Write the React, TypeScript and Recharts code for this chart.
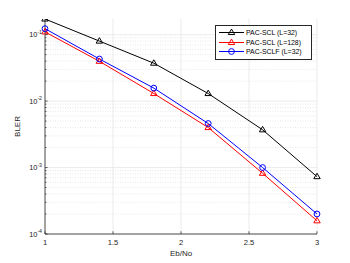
import { LineChart, Line, XAxis, YAxis, CartesianGrid, Legend, Label } from 'recharts';

const ebno = [1, 1.4, 1.8, 2.2, 2.6, 3];
const sclL32 = [0.172, 0.08, 0.0372, 0.013, 0.0037, 0.00073];
const sclL128 = [0.11, 0.0397, 0.013, 0.004, 0.00082, 0.000158];
const sclfL32 = [0.123, 0.043, 0.0157, 0.0046, 0.001, 0.0002];

const xTicks = [1, 1.5, 2, 2.5, 3];
const yDecades = [1e-4, 1e-3, 1e-2, 1e-1];
const yDecadeLabels = ['-4', '-3', '-2', '-1'];
const minorSteps = [2, 3, 4, 5, 6, 7, 8, 9];
const yMax = 0.172;

const yMinor = yDecades.flatMap((d) => minorSteps.map((m) => d * m)).filter((v) => v < yMax);
const yAllTicks = [...yDecades, ...yMinor].sort((a, b) => a - b);

const series = [
  { key: 'scl32', name: 'PAC-SCL (L=32)', color: '#000000', marker: 'triangle', values: sclL32 },
  { key: 'scl128', name: 'PAC-SCL (L=128)', color: '#ff0000', marker: 'triangle', values: sclL128 },
  { key: 'sclf32', name: 'PAC-SCLF (L=32)', color: '#0000ff', marker: 'circle', values: sclfL32 },
];

const data = ebno.map((x, i) => {
  const row: Record<string, number> = { x };
  series.forEach((s) => {
    row[s.key] = s.values[i];
  });
  return row;
});

const FONT = '"Liberation Sans", Arial, Helvetica, sans-serif';
const AXIS = '#262626';

function Marker({ cx, cy, color, marker }: { cx: number; cy: number; color: string; marker: string }) {
  if (marker === 'circle') {
    return <circle cx={cx} cy={cy} r={2.9} fill="none" stroke={color} strokeWidth={1} />;
  }
  const r = 3.4;
  const pts = `${cx},${cy - r} ${cx + r * 0.95},${cy + r * 0.6} ${cx - r * 0.95},${cy + r * 0.6}`;
  return <polygon points={pts} fill="none" stroke={color} strokeWidth={1} />;
}

function BottomTick({ x, y, payload }: any) {
  return (
    <g>
      <line x1={x} y1={y} x2={x} y2={y - 2.7} stroke={AXIS} strokeWidth={0.7} />
      <text x={x} y={y + 11} textAnchor="middle" fill={AXIS} fontSize={7.6} fontFamily={FONT}>
        {payload.value}
      </text>
    </g>
  );
}

function TopTick({ x, y }: any) {
  return <line x1={x} y1={y} x2={x} y2={y + 2.7} stroke={AXIS} strokeWidth={0.7} />;
}

function LeftTick({ x, y, payload }: any) {
  const idx = yDecades.findIndex((d) => Math.abs(d - payload.value) < d * 1e-6);
  const major = idx >= 0;
  return (
    <g>
      <line x1={x} y1={y} x2={x + (major ? 2.7 : 1.5)} y2={y} stroke={AXIS} strokeWidth={0.7} />
      {major && (
        <text x={x - 3} y={y + 2.6} textAnchor="end" fill={AXIS} fontSize={7.4} fontFamily={FONT}>
          <tspan>10</tspan>
          <tspan dy={-3.6} fontSize={5.2}>
            {yDecadeLabels[idx]}
          </tspan>
        </text>
      )}
    </g>
  );
}

function RightTick({ x, y, payload }: any) {
  const major = yDecades.some((d) => Math.abs(d - payload.value) < d * 1e-6);
  return <line x1={x} y1={y} x2={x - (major ? 2.7 : 1.5)} y2={y} stroke={AXIS} strokeWidth={0.7} />;
}

function LegendBox() {
  return (
    <div
      style={{
        border: `1px solid ${AXIS}`,
        background: '#fff',
        padding: '2px 3px 2px 3px',
        fontFamily: FONT,
        fontSize: 6.9,
        color: '#000',
        width: 89,
        whiteSpace: 'nowrap',
      }}
    >
      {series.map((s) => (
        <div key={s.key} style={{ display: 'flex', alignItems: 'center', height: 9.6 }}>
          <svg width={25} height={9} style={{ marginRight: 2 }}>
            <line x1={0} y1={4.5} x2={25} y2={4.5} stroke={s.color} strokeWidth={1} />
            <Marker cx={12.5} cy={4.5} color={s.color} marker={s.marker} />
          </svg>
          <span>{s.name}</span>
        </div>
      ))}
    </div>
  );
}

export default function App() {
  return (
    <div style={{ position: 'absolute', left: 0, top: 0, width: 350, height: 263, background: '#fff' }}>
      <LineChart width={350} height={263} data={data} margin={{ top: 19, right: 33, bottom: 0, left: 0 }}>
        <CartesianGrid
          yAxisId="left"
          horizontalValues={yMinor}
          vertical={false}
          stroke="#d9d9d9"
          strokeDasharray="1 1.5"
          strokeWidth={0.6}
        />
        <CartesianGrid
          yAxisId="left"
          horizontalValues={yDecades}
          verticalValues={xTicks}
          stroke="#e3e3e3"
          strokeWidth={0.7}
        />
        <XAxis
          dataKey="x"
          type="number"
          domain={[1, 3]}
          ticks={xTicks}
          interval={0}
          height={29}
          tickSize={0}
          tickMargin={0}
          tickLine={false}
          axisLine={{ stroke: AXIS, strokeWidth: 0.8 }}
          tick={<BottomTick />}
        >
          <Label
            content={({ viewBox }: any) => (
              <text
                x={viewBox.x + viewBox.width / 2}
                y={viewBox.y + 22}
                textAnchor="middle"
                fill={AXIS}
                fontSize={8}
                fontFamily={FONT}
              >
                Eb/No
              </text>
            )}
          />
        </XAxis>
        <XAxis
          xAxisId="top"
          orientation="top"
          dataKey="x"
          type="number"
          domain={[1, 3]}
          ticks={xTicks}
          interval={0}
          height={0}
          tickSize={0}
          tickMargin={0}
          tickLine={false}
          axisLine={{ stroke: AXIS, strokeWidth: 0.8 }}
          tick={<TopTick />}
        />
        <YAxis
          yAxisId="left"
          scale="log"
          type="number"
          domain={[1e-4, yMax]}
          allowDataOverflow
          ticks={yAllTicks}
          interval={0}
          width={45}
          tickSize={0}
          tickMargin={0}
          tickLine={false}
          axisLine={{ stroke: AXIS, strokeWidth: 0.8 }}
          tick={<LeftTick />}
        >
          <Label
            content={({ viewBox }: any) => {
              const cx = viewBox.x + 20;
              const cy = viewBox.y + viewBox.height / 2;
              return (
                <text
                  x={cx}
                  y={cy}
                  textAnchor="middle"
                  transform={`rotate(-90 ${cx} ${cy})`}
                  fill={AXIS}
                  fontSize={8}
                  fontFamily={FONT}
                >
                  BLER
                </text>
              );
            }}
          />
        </YAxis>
        <YAxis
          yAxisId="right"
          orientation="right"
          scale="log"
          type="number"
          domain={[1e-4, yMax]}
          allowDataOverflow
          ticks={yAllTicks}
          interval={0}
          width={0}
          tickSize={0}
          tickMargin={0}
          tickLine={false}
          axisLine={{ stroke: AXIS, strokeWidth: 0.8 }}
          tick={<RightTick />}
        />
        {series.map((s) => (
          <Line
            key={s.key}
            yAxisId="left"
            type="linear"
            dataKey={s.key}
            name={s.name}
            stroke={s.color}
            strokeWidth={1}
            isAnimationActive={false}
            activeDot={false}
            dot={(p: any) => (
              <Marker key={`${s.key}-${p.index}`} cx={p.cx} cy={p.cy} color={s.color} marker={s.marker} />
            )}
          />
        ))}
        <Legend
          layout="horizontal"
          verticalAlign="middle"
          align="center"
          content={() => <LegendBox />}
          wrapperStyle={{ position: 'absolute', left: 215, top: 25, width: 'auto' }}
        />
      </LineChart>
    </div>
  );
}
